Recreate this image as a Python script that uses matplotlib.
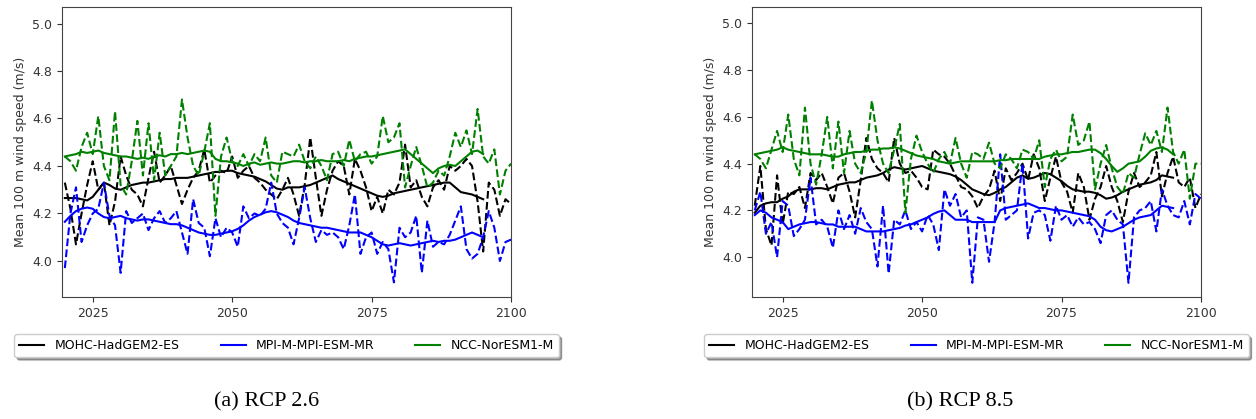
import numpy as np
import matplotlib
matplotlib.use('Agg')
import matplotlib.pyplot as plt

plt.rcParams['font.family'] = ['DejaVu Sans']

# 年份
years = np.arange(2020, 2101)          # 逐年值 (虚线)
years_smooth = np.arange(2020, 2096)   # 滑动平均 (实线)

models = ['MOHC-HadGEM2-ES', 'MPI-M-MPI-ESM-MR', 'NCC-NorESM1-M']
colors = ['k', 'b', 'g']

# ---------------- RCP 2.6 ----------------
had_26 = [4.33, 4.22, 4.07, 4.20, 4.32, 4.42, 4.30, 4.33, 4.15, 4.25,
          4.44, 4.36, 4.30, 4.28, 4.23, 4.35, 4.46, 4.33, 4.36, 4.40,
          4.32, 4.24, 4.30, 4.35, 4.38, 4.47, 4.33, 4.36, 4.38, 4.37,
          4.44, 4.35, 4.38, 4.40, 4.35, 4.33, 4.30, 4.28, 4.26, 4.30,
          4.35, 4.28, 4.19, 4.32, 4.52, 4.35, 4.19, 4.30, 4.38, 4.42,
          4.40, 4.28, 4.43, 4.38, 4.31, 4.21, 4.27, 4.20, 4.30, 4.28,
          4.33, 4.49, 4.31, 4.34, 4.27, 4.23, 4.31, 4.34, 4.30, 4.40,
          4.38, 4.40, 4.43, 4.40, 4.25, 4.04, 4.33, 4.30, 4.19, 4.26,
          4.24]
mpi_26 = [3.97, 4.20, 4.31, 4.08, 4.15, 4.20, 4.22, 4.33, 4.19, 4.15,
          3.95, 4.21, 4.16, 4.18, 4.20, 4.13, 4.18, 4.21, 4.16, 4.18,
          4.21, 4.12, 4.03, 4.26, 4.16, 4.14, 4.02, 4.18, 4.10, 4.14,
          4.12, 4.06, 4.23, 4.18, 4.20, 4.19, 4.22, 4.33, 4.20, 4.16,
          4.14, 4.07, 4.18, 4.31, 4.18, 4.08, 4.13, 4.11, 4.12, 4.10,
          4.05, 4.15, 4.28, 4.03, 4.10, 4.12, 4.03, 4.08, 4.05, 3.91,
          4.14, 4.10, 4.12, 4.19, 3.95, 4.17, 4.06, 4.08, 4.07, 4.11,
          4.17, 4.23, 4.05, 4.01, 4.03, 4.10, 4.21, 4.14, 4.00, 4.08,
          4.09]
ncc_26 = [4.44, 4.42, 4.38, 4.48, 4.54, 4.45, 4.61, 4.40, 4.34, 4.63,
          4.32, 4.28, 4.42, 4.59, 4.36, 4.58, 4.34, 4.54, 4.36, 4.40,
          4.44, 4.68, 4.52, 4.40, 4.36, 4.46, 4.58, 4.19, 4.44, 4.52,
          4.42, 4.40, 4.45, 4.40, 4.45, 4.42, 4.52, 4.36, 4.33, 4.46,
          4.45, 4.44, 4.49, 4.42, 4.39, 4.44, 4.40, 4.34, 4.45, 4.46,
          4.40, 4.51, 4.42, 4.45, 4.46, 4.41, 4.44, 4.61, 4.50, 4.52,
          4.58, 4.31, 4.40, 4.48, 4.40, 4.31, 4.33, 4.38, 4.36, 4.44,
          4.54, 4.48, 4.55, 4.45, 4.64, 4.44, 4.41, 4.47, 4.28, 4.38,
          4.41]

had_26_smooth = [4.265, 4.265, 4.265, 4.26, 4.255, 4.27, 4.30, 4.33, 4.32, 4.305,
                 4.30, 4.31, 4.32, 4.325, 4.33, 4.33, 4.335, 4.34, 4.345, 4.345,
                 4.35, 4.35, 4.35, 4.355, 4.36, 4.365, 4.37, 4.375, 4.375, 4.38,
                 4.38, 4.37, 4.365, 4.36, 4.355, 4.345, 4.335, 4.32, 4.305, 4.30,
                 4.31, 4.31, 4.31, 4.315, 4.32, 4.33, 4.34, 4.35, 4.36, 4.345,
                 4.335, 4.325, 4.315, 4.305, 4.295, 4.285, 4.275, 4.27, 4.275, 4.285,
                 4.29, 4.295, 4.30, 4.305, 4.31, 4.315, 4.32, 4.325, 4.33, 4.33,
                 4.31, 4.29, 4.285, 4.28, 4.27, 4.26]
mpi_26_smooth = [4.165, 4.19, 4.21, 4.22, 4.225, 4.22, 4.20, 4.185, 4.18, 4.185,
                 4.19, 4.18, 4.175, 4.17, 4.175, 4.175, 4.17, 4.165, 4.16, 4.155,
                 4.155, 4.15, 4.14, 4.13, 4.12, 4.115, 4.11, 4.11, 4.115, 4.12,
                 4.125, 4.135, 4.15, 4.17, 4.185, 4.195, 4.205, 4.21, 4.205, 4.195,
                 4.185, 4.17, 4.16, 4.155, 4.15, 4.145, 4.14, 4.14, 4.135, 4.13,
                 4.125, 4.12, 4.12, 4.12, 4.11, 4.10, 4.085, 4.07, 4.065, 4.07,
                 4.075, 4.07, 4.065, 4.07, 4.075, 4.08, 4.085, 4.08, 4.085, 4.085,
                 4.09, 4.10, 4.11, 4.12, 4.11, 4.10]
ncc_26_smooth = [4.44, 4.445, 4.45, 4.46, 4.455, 4.46, 4.465, 4.455, 4.45, 4.445,
                 4.44, 4.44, 4.435, 4.43, 4.435, 4.43, 4.44, 4.445, 4.44, 4.45,
                 4.45, 4.455, 4.45, 4.455, 4.46, 4.465, 4.46, 4.43, 4.42, 4.42,
                 4.415, 4.41, 4.40, 4.41, 4.415, 4.405, 4.41, 4.415, 4.41, 4.41,
                 4.415, 4.42, 4.42, 4.415, 4.42, 4.42, 4.425, 4.42, 4.42, 4.42,
                 4.425, 4.42, 4.43, 4.435, 4.44, 4.44, 4.445, 4.45, 4.455, 4.46,
                 4.465, 4.47, 4.45, 4.43, 4.41, 4.39, 4.37, 4.39, 4.40, 4.405,
                 4.40, 4.42, 4.44, 4.46, 4.465, 4.45]

# ---------------- RCP 8.5 ----------------
had_85 = [4.22, 4.39, 4.12, 4.05, 4.35, 4.14, 4.28, 4.27, 4.30, 4.21,
          4.36, 4.33, 4.36, 4.30, 4.23, 4.34, 4.36, 4.28, 4.17, 4.33,
          4.51, 4.42, 4.38, 4.36, 4.32, 4.51, 4.40, 4.36, 4.37, 4.34,
          4.30, 4.29, 4.46, 4.44, 4.43, 4.40, 4.35, 4.30, 4.29, 4.26,
          4.21, 4.26, 4.29, 4.37, 4.24, 4.38, 4.33, 4.36, 4.40, 4.33,
          4.44, 4.38, 4.24, 4.34, 4.43, 4.32, 4.28, 4.19, 4.36, 4.30,
          4.16, 4.25, 4.30, 4.39, 4.30, 4.24, 4.15, 4.28, 4.36, 4.30,
          4.32, 4.35, 4.45, 4.26, 4.36, 4.43, 4.32, 4.30, 4.34, 4.21,
          4.27]
mpi_85 = [4.20, 4.28, 4.10, 4.15, 4.00, 4.24, 4.22, 4.09, 4.12, 4.16,
          4.34, 4.14, 4.16, 4.13, 4.04, 4.20, 4.12, 4.18, 4.10, 4.21,
          4.15, 4.12, 3.96, 4.22, 3.93, 4.16, 4.14, 4.20, 4.12, 4.15,
          4.11, 4.18, 4.14, 4.03, 4.29, 4.22, 4.27, 4.17, 4.20, 3.89,
          4.17, 4.16, 3.98, 4.15, 4.44, 4.16, 4.18, 4.20, 4.40, 4.08,
          4.19, 4.20, 4.18, 4.07, 4.22, 4.16, 4.18, 4.13, 4.17, 4.14,
          4.15, 4.12, 4.06, 4.18, 4.20, 4.16, 4.14, 3.89, 4.17, 4.20,
          4.21, 4.24, 4.11, 4.29, 4.22, 4.18, 4.17, 4.24, 4.14, 4.27,
          4.25]
ncc_85 = [4.44, 4.42, 4.38, 4.46, 4.54, 4.45, 4.61, 4.42, 4.35, 4.64,
          4.40, 4.31, 4.44, 4.60, 4.38, 4.58, 4.36, 4.54, 4.40, 4.36,
          4.45, 4.67, 4.50, 4.40, 4.36, 4.46, 4.57, 4.19, 4.42, 4.52,
          4.45, 4.40, 4.36, 4.42, 4.45, 4.40, 4.51, 4.40, 4.34, 4.45,
          4.44, 4.42, 4.49, 4.40, 4.38, 4.44, 4.42, 4.38, 4.46, 4.45,
          4.42, 4.50, 4.30, 4.42, 4.46, 4.41, 4.43, 4.61, 4.48, 4.50,
          4.58, 4.29, 4.40, 4.48, 4.38, 4.30, 4.27, 4.36, 4.34, 4.44,
          4.53, 4.48, 4.54, 4.45, 4.64, 4.45, 4.40, 4.46, 4.25, 4.40,
          4.40]

had_85_smooth = [4.19, 4.22, 4.23, 4.235, 4.235, 4.25, 4.26, 4.28, 4.29, 4.29,
                 4.29, 4.295, 4.295, 4.29, 4.30, 4.31, 4.315, 4.32, 4.32, 4.33,
                 4.34, 4.345, 4.35, 4.36, 4.375, 4.385, 4.38, 4.375, 4.38, 4.385,
                 4.39, 4.38, 4.37, 4.365, 4.36, 4.355, 4.345, 4.33, 4.31, 4.29,
                 4.28, 4.27, 4.265, 4.275, 4.29, 4.30, 4.32, 4.34, 4.35, 4.335,
                 4.34, 4.35, 4.36, 4.355, 4.34, 4.325, 4.305, 4.29, 4.285, 4.28,
                 4.28, 4.275, 4.265, 4.25, 4.255, 4.265, 4.28, 4.29, 4.30, 4.31,
                 4.315, 4.32, 4.33, 4.35, 4.345, 4.34]
mpi_85_smooth = [4.18, 4.20, 4.19, 4.17, 4.16, 4.15, 4.12, 4.13, 4.14, 4.145,
                 4.15, 4.15, 4.145, 4.14, 4.14, 4.13, 4.13, 4.13, 4.13, 4.12,
                 4.11, 4.11, 4.11, 4.11, 4.115, 4.12, 4.125, 4.135, 4.14, 4.15,
                 4.16, 4.17, 4.185, 4.195, 4.20, 4.18, 4.16, 4.16, 4.16, 4.15,
                 4.15, 4.15, 4.15, 4.15, 4.20, 4.21, 4.215, 4.22, 4.225, 4.23,
                 4.22, 4.21, 4.21, 4.205, 4.20, 4.20, 4.195, 4.19, 4.185, 4.18,
                 4.175, 4.16, 4.13, 4.115, 4.11, 4.12, 4.13, 4.145, 4.16, 4.17,
                 4.175, 4.18, 4.20, 4.22, 4.215, 4.21]
ncc_85_smooth = [4.44, 4.445, 4.45, 4.455, 4.46, 4.47, 4.46, 4.455, 4.45, 4.445,
                 4.44, 4.44, 4.44, 4.435, 4.43, 4.43, 4.44, 4.445, 4.45, 4.45,
                 4.455, 4.46, 4.46, 4.465, 4.465, 4.47, 4.465, 4.455, 4.445, 4.435,
                 4.43, 4.425, 4.42, 4.41, 4.405, 4.40, 4.405, 4.41, 4.41, 4.41,
                 4.41, 4.41, 4.41, 4.41, 4.415, 4.415, 4.42, 4.42, 4.42, 4.42,
                 4.42, 4.42, 4.43, 4.435, 4.44, 4.44, 4.445, 4.45, 4.45, 4.455,
                 4.46, 4.46, 4.445, 4.42, 4.39, 4.365, 4.38, 4.40, 4.405, 4.41,
                 4.43, 4.455, 4.465, 4.47, 4.46, 4.44]

panels = [
    ([had_26, mpi_26, ncc_26], [had_26_smooth, mpi_26_smooth, ncc_26_smooth], '(a) RCP 2.6', (3.848, 5.069)),
    ([had_85, mpi_85, ncc_85], [had_85_smooth, mpi_85_smooth, ncc_85_smooth], '(b) RCP 8.5', (3.829, 5.070)),
]
ax_left = [0.0494, 0.5987]
caption_x = [0.2126, 0.7643]

fig = plt.figure(figsize=(12.56, 4.19), dpi=100)

for k, (raw, smooth, caption, ylim) in enumerate(panels):
    ax = fig.add_axes([ax_left[k], 0.291, 0.3575, 0.692])
    for i in range(3):
        ax.plot(years, raw[i], color=colors[i], linestyle='--', linewidth=1.5)
        ax.plot(years_smooth, smooth[i], color=colors[i], linewidth=1.5, label=models[i])
    ax.set_xlim(2019.5, 2100)
    ax.set_ylim(*ylim)
    ax.set_xticks([2025, 2050, 2075, 2100])
    ax.set_yticks([4.0, 4.2, 4.4, 4.6, 4.8, 5.0])
    ax.tick_params(labelsize=9, colors='#333333')
    for s in ax.spines.values():
        s.set_color('#444444')
    ax.set_ylabel('Mean 100 m wind speed (m/s)', fontsize=9, color='#333333')
    ax.legend(loc='upper center', bbox_to_anchor=(0.5, -0.128), ncol=3,
              fontsize=9, shadow=True, borderaxespad=0, columnspacing=3.3)
    # 子图标题
    fig.text(caption_x[k], 0.04, caption, ha='center', va='center',
             fontsize=16, family='Liberation Serif')

plt.savefig('out.png', dpi=100)
